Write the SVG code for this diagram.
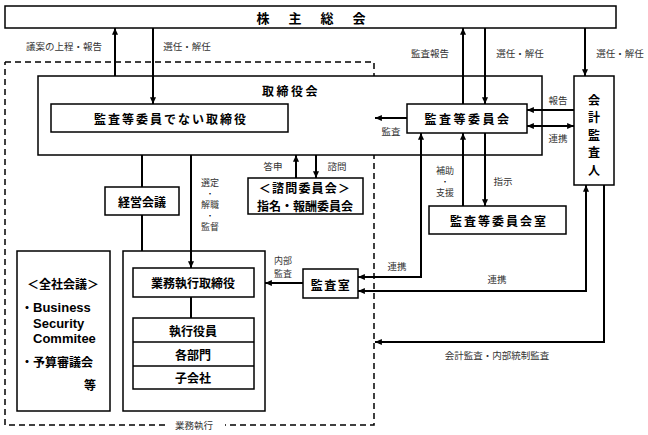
<svg xmlns="http://www.w3.org/2000/svg" width="648" height="435" viewBox="0 0 648 435">
<style>
text{font-family:"Noto Sans CJK JP","Noto Sans",sans-serif;dominant-baseline:central;text-anchor:middle;fill:#000}
.box{fill:#fff;stroke:#000;stroke-width:1.5}
.bt{font-size:12px;font-weight:bold}
.lb{font-size:9.5px;fill:#333}
.vl{font-size:9px;fill:#333}
.dt{font-size:6px;font-weight:bold}
.lat{font-family:"Liberation Sans",Arial,sans-serif;font-size:13px;font-weight:bold;text-anchor:start}
.ln{fill:none;stroke:#000;stroke-width:2}
.ds{fill:none;stroke:#000;stroke-width:1.5;stroke-dasharray:6 4}
</style>
<defs>
<marker id="ah" viewBox="0 0 8 7" markerWidth="7" markerHeight="6" refX="8" refY="3.5" orient="auto-start-reverse" markerUnits="userSpaceOnUse">
<path d="M0,0 L8,3.5 L0,7 z" fill="#000"/>
</marker>
</defs>
<rect width="648" height="435" fill="#fff"/>

<path class="ds" d="M5,62 H374 V425 H225 M165,425 H5 V62"/>
<text class="lb" x="194" y="425">業務執行</text>

<g id="shareholders">
<rect class="box" x="5" y="6" width="611" height="22"/>
<text class="bt" x="263 295 327 359" y="17" style="font-size:13px">株主総会</text>
</g>

<g id="board">
<rect class="box" x="38" y="76" width="504" height="79"/>
<text class="bt" x="291" y="90" letter-spacing="2.5">取締役会</text>
</g>

<g id="non-audit-directors">
<rect class="box" x="51" y="104" width="237" height="28"/>
<text class="bt" x="171" y="118" letter-spacing="2">監査等委員でない取締役</text>
</g>

<g id="audit-committee">
<rect class="box" x="407" y="104" width="120" height="29"/>
<text class="bt" x="468" y="118" letter-spacing="2.5">監査等委員会</text>
</g>

<g id="accounting-auditor">
<rect class="box" x="574" y="76" width="40" height="109"/>
<text class="bt" x="594" y="99">会</text>
<text class="bt" x="594" y="116.5">計</text>
<text class="bt" x="594" y="134">監</text>
<text class="bt" x="594" y="151.5">査</text>
<text class="bt" x="594" y="169">人</text>
</g>

<g id="advisory-committee">
<rect class="box" x="248" y="178" width="115" height="36"/>
<text class="bt" x="305" y="187.2" letter-spacing="1.2">＜諮問委員会＞</text>
<text class="bt" x="305" y="205">指名・報酬委員会</text>
</g>

<g id="audit-committee-office">
<rect class="box" x="429" y="206" width="137" height="28"/>
<text class="bt" x="499" y="220" letter-spacing="2">監査等委員会室</text>
</g>

<g id="management-meeting">
<rect class="box" x="105" y="187" width="74" height="28"/>
<text class="bt" x="142" y="201">経営会議</text>
</g>

<g id="company-meetings">
<rect class="box" x="17" y="251" width="93" height="160"/>
<text class="bt" x="63" y="283">＜全社会議＞</text>
<text class="bt" x="21" y="307" style="text-anchor:start">・<tspan class="lat">Business</tspan></text>
<text class="lat" x="33" y="323">Security</text>
<text class="lat" x="33" y="338">Commitee</text>
<text class="bt" x="21" y="361" style="text-anchor:start">・予算審議会</text>
<text class="bt" x="90" y="384">等</text>
</g>

<g id="execution-area">
<rect class="box" x="123" y="251" width="142" height="160"/>
</g>

<g id="executive-director">
<rect class="box" x="133" y="268" width="121" height="29"/>
<text class="bt" x="193" y="282">業務執行取締役</text>
</g>

<g id="execution-stack">
<rect class="box" x="133" y="318" width="121" height="71"/>
<line x1="133" y1="342" x2="254" y2="342" stroke="#000" stroke-width="1.5"/>
<line x1="133" y1="366" x2="254" y2="366" stroke="#000" stroke-width="1.5"/>
<text class="bt" x="193" y="330">執行役員</text>
<text class="bt" x="193" y="354">各部門</text>
<text class="bt" x="193" y="377">子会社</text>
</g>

<g id="internal-audit">
<rect class="box" x="303" y="269" width="55" height="29"/>
<text class="bt" x="331" y="284" letter-spacing="1.5">監査室</text>
</g>

<g id="connectors">
<line class="ln" x1="115" y1="76" x2="115" y2="28" marker-end="url(#ah)"/>
<line class="ln" x1="153" y1="28" x2="153" y2="104" marker-end="url(#ah)"/>
<line class="ln" x1="463" y1="104" x2="463" y2="28" marker-end="url(#ah)"/>
<line class="ln" x1="485" y1="28" x2="485" y2="104" marker-end="url(#ah)"/>
<line class="ln" x1="585" y1="28" x2="585" y2="76" marker-end="url(#ah)"/>
<line class="ln" x1="574" y1="110" x2="527" y2="110" marker-end="url(#ah)"/>
<line class="ln" x1="527" y1="126" x2="574" y2="126" marker-start="url(#ah)" marker-end="url(#ah)"/>
<line class="ln" x1="407" y1="118" x2="375" y2="118" marker-end="url(#ah)"/>
<line class="ln" x1="296" y1="178" x2="296" y2="155" marker-end="url(#ah)"/>
<line class="ln" x1="316" y1="155" x2="316" y2="178" marker-end="url(#ah)"/>
<line class="ln" x1="142" y1="155" x2="142" y2="187"/>
<line class="ln" x1="142" y1="215" x2="142" y2="251"/>
<line class="ln" x1="191" y1="155" x2="191" y2="268" marker-end="url(#ah)"/>
<line class="ln" x1="191" y1="297" x2="191" y2="318"/>
<line class="ln" x1="303" y1="283" x2="265" y2="283" marker-end="url(#ah)"/>
<path class="ln" d="M421,133 V277 H358" marker-start="url(#ah)" marker-end="url(#ah)"/>
<path class="ln" d="M358,291 H586 V185" marker-start="url(#ah)" marker-end="url(#ah)"/>
<line class="ln" x1="463" y1="206" x2="463" y2="133" marker-end="url(#ah)"/>
<line class="ln" x1="485" y1="133" x2="485" y2="206" marker-end="url(#ah)"/>
<path class="ln" d="M604,185 V342 H375" marker-end="url(#ah)"/>
</g>

<g id="labels">
<text class="lb" x="64" y="46">議案の上程・報告</text>
<text class="lb" x="187" y="46">選任・解任</text>
<text class="lb" x="430" y="53">監査報告</text>
<text class="lb" x="520" y="53">選任・解任</text>
<text class="lb" x="620" y="53">選任・解任</text>
<text class="lb" x="558" y="100">報告</text>
<text class="lb" x="558" y="138">連携</text>
<text class="lb" x="391" y="131">監査</text>
<text class="lb" x="273" y="166">答申</text>
<text class="lb" x="337" y="166">諮問</text>
<text class="vl" x="210" y="182">選定</text>
<text class="dt" x="210" y="193">・</text>
<text class="vl" x="210" y="204">解職</text>
<text class="dt" x="210" y="215">・</text>
<text class="vl" x="210" y="226">監督</text>
<text class="vl" x="445" y="170">補助</text>
<text class="dt" x="445" y="181">・</text>
<text class="vl" x="445" y="192">支援</text>
<text class="lb" x="503" y="181">指示</text>
<text class="vl" x="283" y="260">内部</text>
<text class="vl" x="283" y="273.5">監査</text>
<text class="lb" x="397" y="266">連携</text>
<text class="lb" x="497" y="279">連携</text>
<text class="lb" x="497" y="355">会計監査・内部統制監査</text>
</g>
</svg>
